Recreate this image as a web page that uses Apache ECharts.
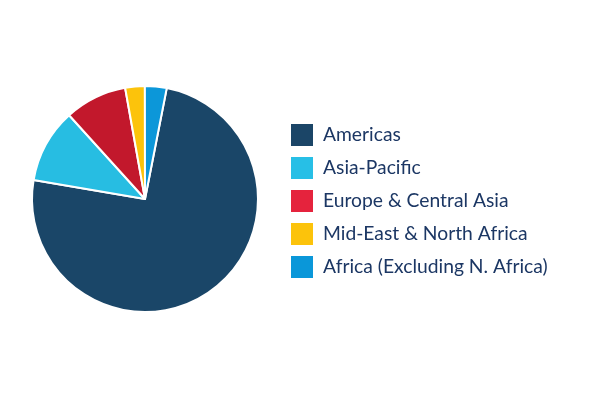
<!DOCTYPE html>
<html>
<head>
<meta charset="utf-8">
<script src="https://cdn.jsdelivr.net/npm/echarts@6/dist/echarts.min.js"></script>
<style>html,body{margin:0;padding:0;background:#fff;}#c{width:600px;height:400px;}</style>
</head>
<body>
<div id="c"></div>
<script>
var categories = ['Americas', 'Asia-Pacific', 'Europe & Central Asia', 'Mid-East & North Africa', 'Africa (Excluding N. Africa)'];
var values = [74.6, 10.6, 8.9, 2.8, 3.1];
var sliceColors = ['#1a4668', '#27bde2', '#c2182c', '#fcc30b', '#0c97d9'];
var legendColors = ['#1b4567', '#27bfe6', '#e5233d', '#fcc30b', '#0a97d9'];

var chart = echarts.init(document.getElementById('c'), null, {renderer: 'canvas'});
chart.setOption({
  animation: false,
  legend: {
    orient: 'vertical',
    left: 289,
    top: 122,
    padding: 0,
    itemWidth: 24,
    itemHeight: 24,
    itemGap: 7,
    icon: 'rect',
    selectedMode: false,
    textStyle: {fontFamily: 'Lato', fontSize: 19.3, lineHeight: 24, color: '#1c3764', padding: [0, 0, 0, 4]},
    data: categories.map(function (n, i) {
      return {name: n, itemStyle: {color: legendColors[i]}};
    })
  },
  series: [{
    type: 'pie',
    center: [145, 199],
    radius: 113,
    startAngle: 78.9,
    clockwise: true,
    label: {show: false},
    labelLine: {show: false},
    itemStyle: {borderColor: '#fff', borderWidth: 2},
    emphasis: {disabled: true},
    data: categories.map(function (n, i) {
      return {name: n, value: values[i], itemStyle: {color: sliceColors[i]}};
    })
  }]
});
</script>
</body>
</html>
